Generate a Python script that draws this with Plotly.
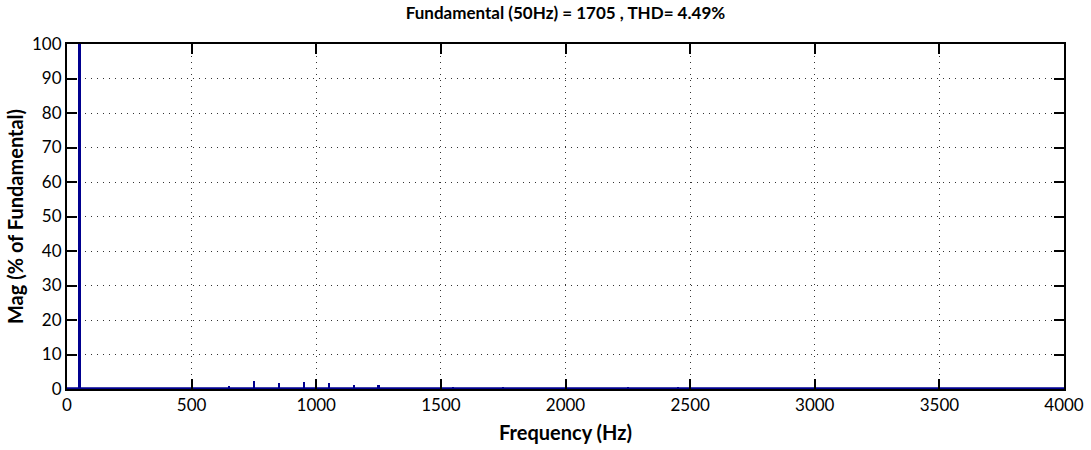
import plotly.graph_objects as go

# Harmonic spectrum of the inverter output voltage
freq_hz = [50, 650, 750, 850, 950, 1050, 1150, 1250, 1550, 1750, 2250, 2450]
mag_pct = [100, 1.0, 2.3, 1.7, 1.9, 1.7, 1.3, 1.3, 0.6, 0.4, 0.3, 0.3]

x_range = [0, 4000]
y_range = [0, 100]
x_ticks = [0, 500, 1000, 1500, 2000, 2500, 3000, 3500, 4000]
y_ticks = [0, 10, 20, 30, 40, 50, 60, 70, 80, 90, 100]

fundamental = 1705
thd = 4.49

bar_color = "#00008f"
font_family = "Lato, Open Sans, DejaVu Sans, sans-serif"

fig = go.Figure()

# noise floor along the baseline
fig.add_trace(go.Scatter(
    x=x_range, y=[0.15, 0.15], mode="lines",
    line=dict(color=bar_color, width=2.5), hoverinfo="skip", showlegend=False,
))

fig.add_trace(go.Bar(
    x=freq_hz, y=mag_pct, width=9,
    marker=dict(color=bar_color, line=dict(width=0)),
    showlegend=False,
))

axis_common = dict(
    showline=True, linecolor="black", linewidth=2, mirror="ticks",
    ticks="inside", ticklen=10, tickcolor="black", tickwidth=1.5,
    showgrid=True, gridcolor="#333333", griddash="1px,5px", gridwidth=1,
    zeroline=False, automargin=False,
    tickfont=dict(family=font_family, size=17, color="black"),
)

fig.update_layout(
    width=1091, height=450,
    margin=dict(l=67, r=27, t=44, b=61),
    paper_bgcolor="white", plot_bgcolor="white",
    bargap=0,
    title=dict(
        text=f"<b>Fundamental (50Hz) = {fundamental} , THD= {thd:.2f}%</b>",
        x=0.5183, xanchor="center", y=0.97, yanchor="middle",
        font=dict(family=font_family, size=17, color="black"),
    ),
    xaxis=dict(
        range=x_range, tickvals=x_ticks,
        title=dict(text="<b>Frequency (Hz)</b>", standoff=12,
                   font=dict(family=font_family, size=20, color="black")),
        **axis_common,
    ),
    yaxis=dict(
        range=y_range, tickvals=y_ticks,
        title=dict(text="<b>Mag (% of Fundamental)</b>", standoff=3,
                   font=dict(family=font_family, size=20, color="black")),
        **axis_common,
    ),
)

fig.write_html("out.html")
